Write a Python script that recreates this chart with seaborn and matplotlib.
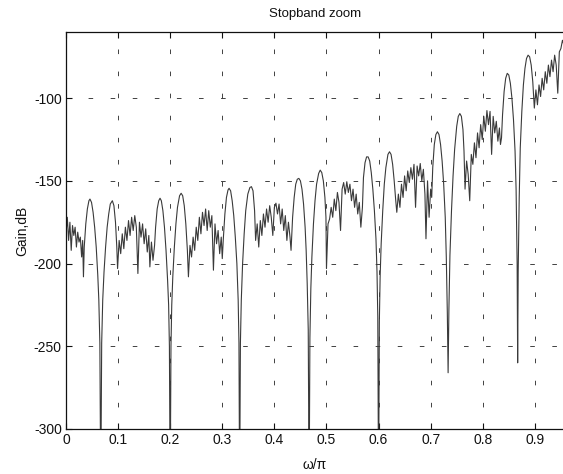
import numpy as np
import pandas as pd
import matplotlib
matplotlib.use("Agg")
import matplotlib.pyplot as plt
import seaborn as sns

# Normalised frequency (omega/pi) and stopband gain in dB, one line per segment
omega = [
    # ripple, 0 .. 0.035
    0.000, 0.0025, 0.005, 0.0075, 0.010, 0.0125, 0.015, 0.0175, 0.020, 0.0225, 0.025, 0.0275, 0.030, 0.032, 0.0335, 0.035,
    # lobes around the null at 1/15
    0.038, 0.041, 0.044, 0.046, 0.049, 0.052, 0.055, 0.058, 0.061, 0.063, 0.065, 0.0667, 0.0685, 0.0705, 0.073, 0.076, 0.079, 0.082, 0.085, 0.089, 0.092, 0.095, 0.0975,
    # ripple 0.1 .. 0.17
    0.099, 0.102, 0.105, 0.108, 0.111, 0.114, 0.117, 0.120, 0.123, 0.126, 0.129, 0.132, 0.135, 0.138, 0.141, 0.144, 0.147, 0.150, 0.153, 0.156, 0.159, 0.161, 0.164, 0.167, 0.170,
    # lobes around the null at 0.2
    0.172, 0.175, 0.178, 0.1805, 0.183, 0.186, 0.189, 0.192, 0.195, 0.197, 0.1985, 0.200, 0.2015, 0.203, 0.205, 0.208, 0.211, 0.214, 0.218, 0.221, 0.224, 0.227, 0.230, 0.233,
    # ripple 0.235 .. 0.30
    0.235, 0.238, 0.241, 0.244, 0.247, 0.250, 0.253, 0.256, 0.259, 0.262, 0.265, 0.268, 0.271, 0.274, 0.277, 0.280, 0.283, 0.286, 0.289, 0.292, 0.295, 0.298, 0.300,
    # lobes around the null at 1/3
    0.302, 0.305, 0.308, 0.311, 0.313, 0.316, 0.319, 0.322, 0.325, 0.328, 0.3305, 0.332, 0.3333, 0.3348, 0.3365, 0.339, 0.342, 0.345, 0.349, 0.353, 0.356, 0.359, 0.362,
    # ripple 0.364 .. 0.432
    0.364, 0.367, 0.370, 0.373, 0.376, 0.379, 0.382, 0.385, 0.388, 0.391, 0.394, 0.397, 0.400, 0.403, 0.406, 0.409, 0.412, 0.415, 0.418, 0.421, 0.424, 0.427, 0.430, 0.432,
    # lobes around the null at 7/15
    0.435, 0.438, 0.441, 0.444, 0.447, 0.450, 0.453, 0.456, 0.459, 0.461, 0.463, 0.465, 0.4667, 0.4682, 0.470, 0.472, 0.475, 0.478, 0.481, 0.485, 0.488, 0.491, 0.494, 0.497, 0.499,
    # ripple 0.5 .. 0.57
    0.500, 0.503, 0.506, 0.509, 0.512, 0.515, 0.518, 0.521, 0.524, 0.527, 0.530, 0.533, 0.536, 0.539, 0.542, 0.545, 0.548, 0.551, 0.554, 0.557, 0.560, 0.563, 0.566, 0.569,
    # lobes around the null at 0.6
    0.571, 0.574, 0.577, 0.580, 0.583, 0.586, 0.589, 0.592, 0.595, 0.597, 0.5985, 0.600, 0.6015, 0.603, 0.605, 0.608, 0.611, 0.614, 0.618, 0.621, 0.624, 0.627, 0.630, 0.633,
    # ripple 0.635 .. 0.70
    0.635, 0.638, 0.641, 0.644, 0.647, 0.650, 0.653, 0.656, 0.659, 0.662, 0.665, 0.668, 0.671, 0.674, 0.677, 0.680, 0.683, 0.686, 0.689, 0.691, 0.694, 0.697, 0.700, 0.702,
    # lobes around the null at 11/15
    0.704, 0.707, 0.710, 0.713, 0.716, 0.719, 0.722, 0.725, 0.728, 0.730, 0.732, 0.7335, 0.735, 0.737, 0.740, 0.743, 0.746, 0.750, 0.753, 0.756, 0.759, 0.762, 0.764,
    # ripple 0.766 .. 0.836
    0.766, 0.769, 0.772, 0.775, 0.778, 0.781, 0.784, 0.787, 0.790, 0.793, 0.796, 0.799, 0.802, 0.805, 0.808, 0.811, 0.814, 0.817, 0.820, 0.823, 0.826, 0.829, 0.832, 0.834, 0.836,
    # lobes around the null at 13/15
    0.838, 0.841, 0.844, 0.847, 0.850, 0.853, 0.856, 0.859, 0.862, 0.864, 0.866, 0.867, 0.868, 0.870, 0.872, 0.875, 0.878, 0.881, 0.884, 0.887, 0.890, 0.893, 0.896,
    # ripple 0.9 .. edge
    0.899, 0.902, 0.905, 0.908, 0.911, 0.914, 0.917, 0.920, 0.923, 0.926, 0.929, 0.932, 0.935, 0.938, 0.941, 0.944, 0.947, 0.950, 0.953, 0.956, 0.960,
]

gain_db = [
    -182, -172, -186, -175, -192, -177, -183, -178, -190, -181, -187, -184, -196, -186, -208, -190,
    -176, -167, -162, -161, -163, -169, -178, -190, -207, -222, -248, -340, -248, -222, -205, -190, -178, -170, -164, -162, -165, -175, -190,
    -203, -186, -194, -182, -191, -178, -186, -174, -183, -172, -180, -171, -178, -206, -175, -184, -176, -188, -179, -193, -183, -202, -187, -198, -189,
    -178, -167, -162, -160.5, -162, -168, -178, -192, -210, -225, -250, -340, -250, -225, -208, -190, -176, -166, -159, -157.5, -159, -165, -176, -192,
    -208, -189, -196, -184, -192, -178, -186, -172, -182, -169, -177, -167, -180, -168, -178, -171, -204, -176, -188, -180, -194, -184, -197,
    -185, -170, -160, -155.5, -154.5, -156, -162, -171, -184, -200, -222, -248, -340, -248, -222, -200, -182, -168, -158, -154, -153.5, -156, -168,
    -186, -176, -190, -174, -183, -170, -178, -167, -175, -165, -172, -183, -166, -163.5, -170, -164, -176, -167, -180, -171, -186, -175, -184, -192,
    -172, -160, -152, -149, -148.5, -150, -155, -164, -178, -192, -212, -240, -340, -245, -215, -196, -176, -162, -152, -145.5, -143.5, -145, -150, -160, -172,
    -203, -176, -173, -166, -172, -161, -168, -157, -163, -180, -155, -151, -158, -150.5, -157, -152, -162, -155, -166, -158, -170, -163, -178, -166,
    -148, -139, -135.5, -135.5, -138, -145, -155, -168, -185, -205, -232, -340, -235, -208, -188, -168, -152, -142, -134, -132.4, -134, -140, -150, -162,
    -169, -158, -166, -152, -160, -147, -156, -144, -151, -142, -149, -140, -166, -141, -147, -139.5, -150, -143, -158, -185, -150, -172, -155, -160,
    -142, -128, -122, -120.3, -122, -128, -138, -152, -172, -196, -230, -266, -228, -195, -168, -147, -131, -117, -111, -109.3, -111, -119, -132,
    -155, -138, -146, -162, -134, -140, -127, -136, -121, -130, -116, -125, -111, -120, -107.5, -116, -108, -134, -111, -121, -114, -126, -118, -128, -124,
    -110, -96, -88, -85, -86, -91, -100, -113, -132, -155, -200, -260, -205, -160, -130, -108, -92, -82, -76, -74, -75, -80, -90,
    -106, -95, -104, -92, -99, -88, -95, -84, -91, -80, -87, -77, -84, -74, -80, -97, -72, -70, -65, -68, -62,
]

x_ticks = [0, 0.1, 0.2, 0.3, 0.4, 0.5, 0.6, 0.7, 0.8, 0.9]
x_tick_labels = ["0", "0.1", "0.2", "0.3", "0.4", "0.5", "0.6", "0.7", "0.8", "0.9"]
y_ticks = [-300, -250, -200, -150, -100]

sns.set_theme(style="white")
plt.rcParams["font.family"] = ["Liberation Sans", "DejaVu Sans"]
plt.rcParams["font.size"] = 9
plt.rcParams["axes.unicode_minus"] = False

response = pd.DataFrame({"omega": omega, "gain": gain_db})

fig = plt.figure(figsize=(5.63, 4.74), dpi=100)
ax = fig.add_axes([66 / 563, 45 / 474, 497.5 / 563, 397 / 474])

sns.lineplot(data=response, x="omega", y="gain", ax=ax, color="#3a3a3a",
             linewidth=0.8, estimator=None, sort=False, legend=False)

ax.set_xlim(0, 0.955)
ax.set_ylim(-300, -60)
ax.set_xticks(x_ticks)
ax.set_xticklabels(x_tick_labels)
ax.set_yticks(y_ticks)

grid_style = (0, (5.5, 21))
ax.grid(True, color="#222222", linewidth=0.6, linestyle=grid_style)

for side in ("left", "bottom", "top"):
    ax.spines[side].set_visible(True)
    ax.spines[side].set_color("#111111")
    ax.spines[side].set_linewidth(0.9)
ax.spines["right"].set_visible(False)

ax.tick_params(direction="in", length=4, width=0.8, colors="#111111",
               labelsize=10, top=True, right=False, pad=3,
               left=True, bottom=True)

ax.set_title("Stopband zoom", fontsize=9.5, color="#111111", pad=11)
ax.set_xlabel("\u03c9/\u03c0", fontsize=10, color="#111111", labelpad=8)
ax.set_ylabel("Gain,dB", fontsize=10, color="#111111", labelpad=3)

fig.savefig("out.png", dpi=100)
